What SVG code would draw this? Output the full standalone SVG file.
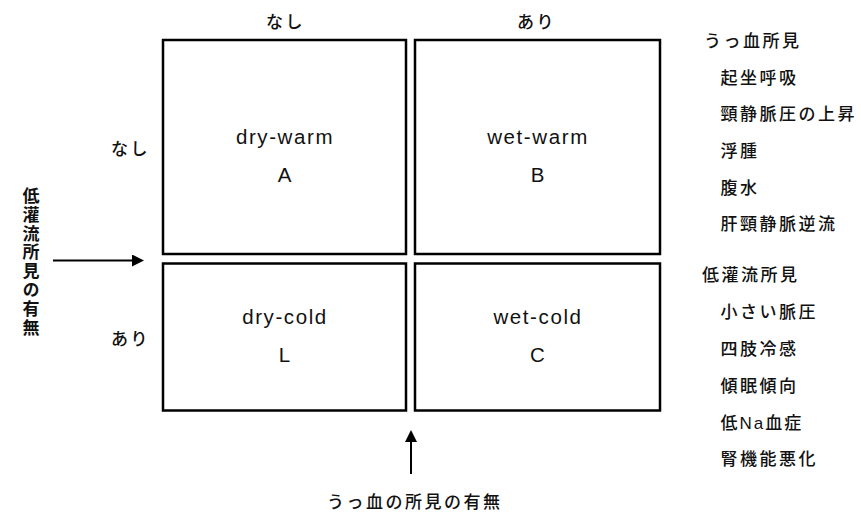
<svg xmlns="http://www.w3.org/2000/svg" width="861" height="512" viewBox="0 0 861 512">
  <style>
    .box { fill: #ffffff; stroke: #000000; stroke-width: 2.5; }
    .lat { font-family: "Liberation Sans", Arial, "Noto Sans CJK JP", sans-serif; font-size: 20.5px; fill: #111111; }
    .lbl { letter-spacing: 1.6px; }
    .jp { font-family: "Noto Sans CJK JP", "Noto Sans CJK SC", sans-serif; font-size: 17px; fill: #111111; letter-spacing: 2.5px; font-weight: 500; }
    .mix { font-family: "Liberation Sans", Arial, "Noto Sans CJK JP", sans-serif; font-size: 17px; fill: #111111; letter-spacing: 2px; font-weight: 500; }
    .conn { stroke: #000000; stroke-width: 2; fill: none; }
  </style>
  <defs>
    <marker id="arrow" markerWidth="12" markerHeight="12" refX="0" refY="6" orient="auto" markerUnits="userSpaceOnUse">
      <path d="M0,0 L12,6 L0,12 Z" fill="#000000"/>
    </marker>
  </defs>
  <rect width="861" height="512" fill="#ffffff"/>

  <g id="connectors">
    <line class="conn" x1="53" y1="260.5" x2="132" y2="260.5" marker-end="url(#arrow)"/>
    <line class="conn" x1="411" y1="474" x2="411" y2="442" marker-end="url(#arrow)"/>
  </g>

  <g id="node-A">
    <rect class="box" x="163" y="40" width="243" height="214"/>
    <text class="lat lbl" x="285" y="144" text-anchor="middle">dry-warm</text>
    <text class="lat" x="284.5" y="182" text-anchor="middle">A</text>
  </g>
  <g id="node-B">
    <rect class="box" x="415" y="40" width="245" height="214"/>
    <text class="lat lbl" x="538" y="144" text-anchor="middle">wet-warm</text>
    <text class="lat" x="537.5" y="182" text-anchor="middle">B</text>
  </g>
  <g id="node-L">
    <rect class="box" x="163" y="263.5" width="243" height="147"/>
    <text class="lat lbl" x="285" y="324" text-anchor="middle">dry-cold</text>
    <text class="lat" x="284.5" y="362" text-anchor="middle">L</text>
  </g>
  <g id="node-C">
    <rect class="box" x="415" y="263.5" width="245" height="147"/>
    <text class="lat lbl" x="538" y="324" text-anchor="middle">wet-cold</text>
    <text class="lat" x="537.5" y="362" text-anchor="middle">C</text>
  </g>

  <g id="axis-labels">
    <text class="jp" x="266" y="28">なし</text>
    <text class="jp" x="517" y="28">あり</text>
    <text class="jp" x="111" y="155">なし</text>
    <text class="jp" x="111" y="345">あり</text>
    <text class="jp" x="327" y="508">うっ血の所見の有無</text>
    <text class="jp" x="31" y="187" style="writing-mode: vertical-rl; letter-spacing: 1.8px; font-weight: 700;">低灌流所見の有無</text>
  </g>

  <g id="congestion-list">
    <text class="jp" x="704" y="46.5">うっ血所見</text>
    <text class="jp" x="720.5" y="83.5">起坐呼吸</text>
    <text class="jp" x="720.5" y="120">頸静脈圧の上昇</text>
    <text class="jp" x="720.5" y="156.5">浮腫</text>
    <text class="jp" x="720.5" y="193.5">腹水</text>
    <text class="jp" x="720.5" y="230">肝頸静脈逆流</text>
  </g>
  <g id="hypoperfusion-list">
    <text class="jp" x="702" y="280.5">低灌流所見</text>
    <text class="jp" x="720.5" y="318">小さい脈圧</text>
    <text class="jp" x="720.5" y="354.5">四肢冷感</text>
    <text class="jp" x="720.5" y="391.5">傾眠傾向</text>
    <text class="mix" x="720.5" y="428.5">低Na血症</text>
    <text class="jp" x="720.5" y="465">腎機能悪化</text>
  </g>
</svg>
